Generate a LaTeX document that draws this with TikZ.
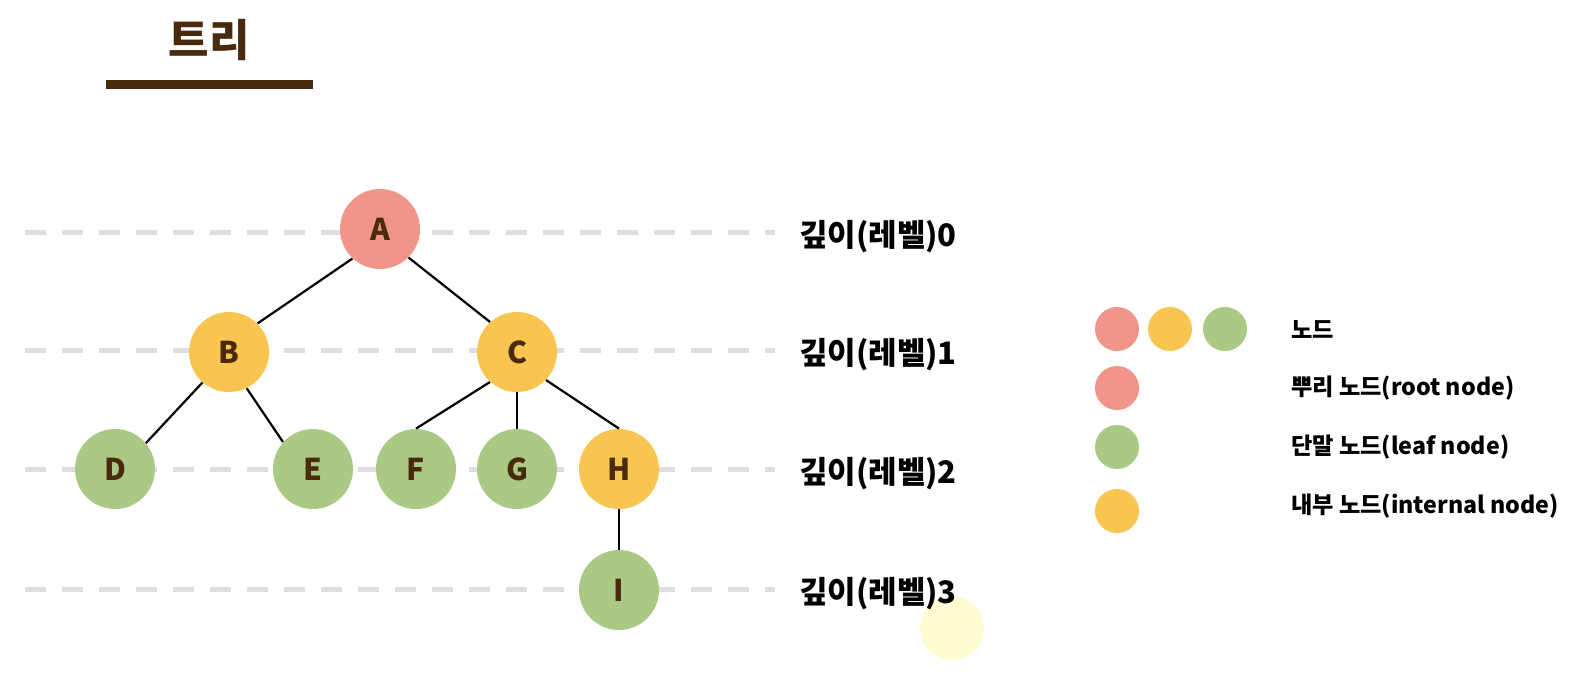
\documentclass[tikz,border=0pt]{standalone}
\usepackage{fontspec}
\setmainfont{Noto Sans CJK KR}
\usetikzlibrary{positioning}
\definecolor{titlebrown}{HTML}{4A2A0C}
\definecolor{rootred}{HTML}{F1948A}
\definecolor{innery}{HTML}{F8C550}
\definecolor{leafg}{HTML}{A9C985}
\definecolor{dashgray}{HTML}{DEDEDE}
\definecolor{cursorglow}{HTML}{FFFCD2}

\begin{document}
\begin{tikzpicture}[x=0.5pt,y=-0.5pt,
    tnode/.style={circle,minimum size=40pt,inner sep=0pt,font=\fontsize{15}{15}\selectfont\bfseries,text=titlebrown},
    dot/.style={circle,minimum size=22pt,inner sep=0pt},
    levelline/.style={dashgray,line width=2.5pt,dash pattern=on 10.5pt off 8pt},
    levellabel/.style={anchor=west,font=\fontsize{15.5}{15.5}\selectfont\bfseries},
    legendtext/.style={anchor=west,font=\fontsize{11.6}{11.6}\selectfont\bfseries},
    edge/.style={line width=1.1pt}]
  \useasboundingbox (0,0) rectangle (1572,680);
  % pointer highlight (behind the labels)
  \fill[cursorglow] (952,628) circle (16pt);
  % title
  \node[font=\fontsize{22}{22}\selectfont\bfseries,text=titlebrown] (title) at (209,40) {트리};
  \fill[titlebrown] (106,80) rectangle (313,89);
  % depth levels
  \foreach \y/\d in {232/0,350/1,469/2,589/3}{
    \draw[levelline] (25,\y) -- (775,\y);
    \node[levellabel] (lv\d) at (792,\y+5) {깊이(레벨)\d};
  }
  % tree
  \node[tnode,fill=rootred] (A) at (380,229) {A};
  \node[tnode,fill=innery] (B) at (229,352) {B};
  \node[tnode,fill=innery] (C) at (517,352) {C};
  \node[tnode,fill=leafg] (D) at (115,469) {D};
  \node[tnode,fill=leafg] (E) at (313,469) {E};
  \node[tnode,fill=leafg] (F) at (416,469) {F};
  \node[tnode,fill=leafg] (G) at (517,469) {G};
  \node[tnode,fill=innery] (H) at (619,469) {H};
  \node[tnode,fill=leafg] (I) at (619,590) {I};
  \draw[edge] (A.227) -- (B.45);
  \draw[edge] (A.-45) -- (C.132);
  \draw[edge] (B.229) -- (D.40);
  \draw[edge] (B.-64) -- (E.138);
  \draw[edge] (C.228) -- (F.north);
  \draw[edge] (C) -- (G);
  \draw[edge] (C.-44) -- (H.north);
  \draw[edge] (H) -- (I);
  % legend
  \node[dot,fill=rootred] (lr) at (1117,329) {};
  \node[dot,fill=innery] (ly) at (1170,329) {};
  \node[dot,fill=leafg] (lg) at (1225,329) {};
  \node[dot,fill=rootred] (lroot) at (1117,388) {};
  \node[dot,fill=leafg] (lleaf) at (1117,447) {};
  \node[dot,fill=innery] (linner) at (1117,511) {};
  \node[legendtext] (tnodes) at (1284,329) {노드};
  \node[legendtext] (troot) at (1284,388) {뿌리 노드(root node)};
  \node[legendtext] (tleaf) at (1284,447) {단말 노드(leaf node)};
  \node[legendtext] (tinner) at (1284,506) {내부 노드(internal node)};
\end{tikzpicture}
\end{document}
